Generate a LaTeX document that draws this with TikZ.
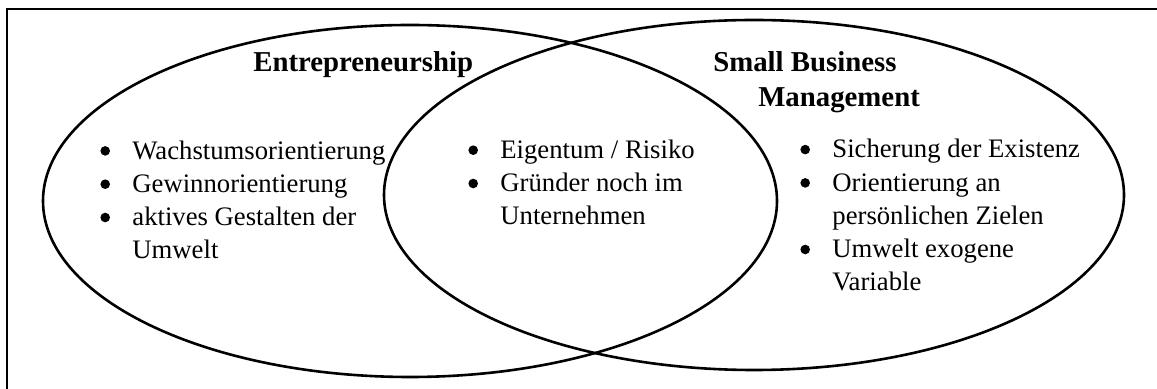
\documentclass[tikz,border=0pt]{standalone}
\usepackage{fontspec}
\setmainfont{Liberation Serif}
\usepackage{tikz}

\newcommand{\itm}{\makebox[16pt][l]{\raisebox{1.7pt}{\tikz\fill (0,0) circle (2.4pt);}}}
\newcommand{\cont}{\hspace*{16pt}}

\begin{document}
\begin{tikzpicture}[
  x=0.5pt, y=-0.5pt,
  line width=1.3pt,
  txt/.style={anchor=base west, inner sep=0pt, align=left,
    font=\fontsize{13.35}{16.65}\selectfont},
  ttl/.style={anchor=base west, inner sep=0pt, align=left,
    font=\fontsize{14.4}{17.5}\selectfont\bfseries},
]
\useasboundingbox (0,0) rectangle (1157,389);
\fill[white] (0,0) rectangle (1157,389);
% ---- frame (only top and left edge visible)
\draw[line width=1.2pt] (7,389) -- (7,9) -- (1157,9);
% ---- the two sets
\coordinate (ecent) at (410,201);
\coordinate (scent) at (754,195);
\draw (ecent) ellipse [x radius=183.5pt, y radius=88pt];
\draw (scent) ellipse [x radius=185pt, y radius=87.5pt];
% ---- titles (base = baseline of last line)
\node[ttl] (entre) at (252,72) {Entrepreneurship};
\node[ttl] (sbm) at (712,107) {Small Business\\\hspace*{22.5pt}Management};
% ---- lists
\node[txt] (entrelist) at (100,259)
  {\itm Wachstumsorientierung\\
   \itm Gewinnorientierung\\
   \itm aktives Gestalten der\\
   \cont Umwelt};
\node[txt] (commonlist) at (468,225)
  {\itm Eigentum / Risiko\\
   \itm Gründer noch im\\
   \cont Unternehmen};
\node[txt] (sbmlist) at (800,291)
  {\itm Sicherung der Existenz\\
   \itm Orientierung an\\
   \cont persönlichen Zielen\\
   \itm Umwelt exogene\\
   \cont Variable};
\end{tikzpicture}
\end{document}
